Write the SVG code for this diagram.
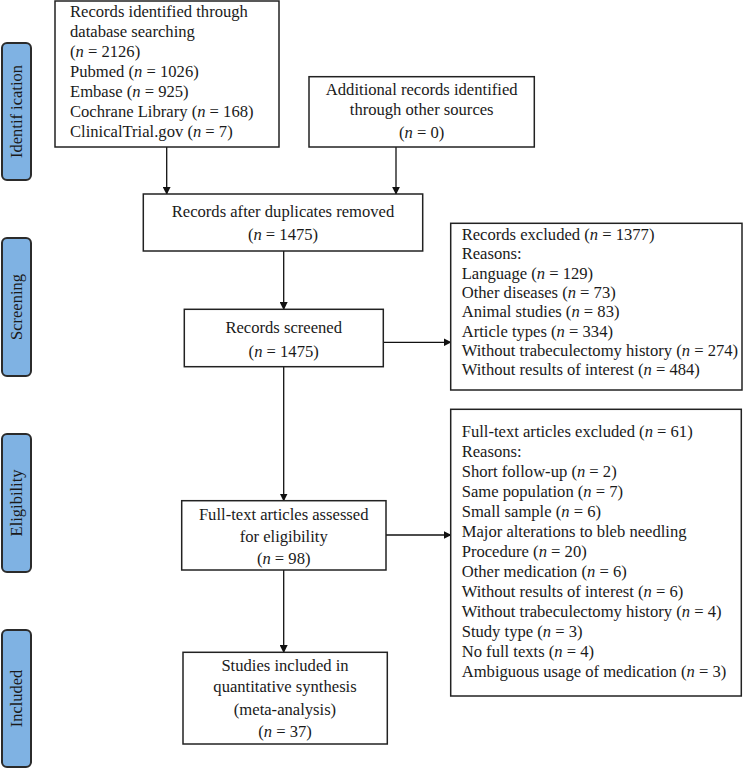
<svg xmlns="http://www.w3.org/2000/svg" width="744" height="768" viewBox="0 0 744 768">
<style>
text{font-family:"Liberation Serif","Times New Roman",serif;font-size:16.6px;fill:#1a1a1a}
.box{fill:#fff;stroke:#222;stroke-width:1.5}
.bar{fill:#7fb2e3;stroke:#2b2b2b;stroke-width:2}
.c{text-anchor:middle}
.lab{text-anchor:middle;font-size:16.5px}
.ln{stroke:#111;stroke-width:1.3;fill:none}
.i{font-style:italic}
</style>
<defs>
<marker id="ah" viewBox="0 0 10 10" refX="9" refY="5" markerWidth="8" markerHeight="8" markerUnits="userSpaceOnUse" orient="auto">
<path d="M0,0 L10,5 L0,10 z" fill="#111"/>
</marker>
</defs>
<rect width="744" height="768" fill="#fff"/>
<g id="phase-identification"><rect class="bar" x="2" y="43" width="29" height="137" rx="5"/><text class="lab" transform="translate(22,111.5) rotate(-90)">Identif ication</text></g>
<g id="phase-screening"><rect class="bar" x="2" y="238" width="29" height="138" rx="5"/><text class="lab" transform="translate(22,307) rotate(-90)">Screening</text></g>
<g id="phase-eligibility"><rect class="bar" x="2" y="434" width="29" height="138" rx="5"/><text class="lab" transform="translate(22,503) rotate(-90)">Eligibility</text></g>
<g id="phase-included"><rect class="bar" x="2" y="630" width="29" height="137" rx="5"/><text class="lab" transform="translate(22,698.5) rotate(-90)">Included</text></g>

<g id="connectors">
<line class="ln" x1="166.7" y1="147" x2="166.7" y2="194" marker-end="url(#ah)"/>
<line class="ln" x1="396" y1="147" x2="396" y2="194" marker-end="url(#ah)"/>
<line class="ln" x1="283.7" y1="251" x2="283.7" y2="309.3" marker-end="url(#ah)"/>
<line class="ln" x1="383.3" y1="342.3" x2="450.7" y2="342.3" marker-end="url(#ah)"/>
<line class="ln" x1="283.7" y1="366.7" x2="283.7" y2="500.7" marker-end="url(#ah)"/>
<line class="ln" x1="386" y1="535" x2="450.7" y2="535" marker-end="url(#ah)"/>
<line class="ln" x1="283.7" y1="570" x2="283.7" y2="652.3" marker-end="url(#ah)"/>
</g>

<g id="n-identified">
<rect class="box" x="55" y="1" width="224" height="146"/>
<text x="70" y="16.7">Records identified through</text>
<text x="70" y="36.7">database searching</text>
<text x="70" y="56.7">(<tspan class="i">n</tspan> = 2126)</text>
<text x="70" y="77">Pubmed (<tspan class="i">n</tspan> = 1026)</text>
<text x="70" y="97">Embase (<tspan class="i">n</tspan> = 925)</text>
<text x="70" y="117.3">Cochrane Library (<tspan class="i">n</tspan> = 168)</text>
<text x="70" y="137.3">ClinicalTrial.gov (<tspan class="i">n</tspan> = 7)</text>
</g>
<g id="n-additional">
<rect class="box" x="309" y="76.7" width="225.3" height="70.3"/>
<text class="c" x="421.7" y="95">Additional records identified</text>
<text class="c" x="421.7" y="115">through other sources</text>
<text class="c" x="421.7" y="138.3">(<tspan class="i">n</tspan> = 0)</text>
</g>
<g id="n-duplicates">
<rect class="box" x="143.3" y="194" width="279.4" height="57"/>
<text class="c" x="283" y="217">Records after duplicates removed</text>
<text class="c" x="283" y="240">(<tspan class="i">n</tspan> = 1475)</text>
</g>
<g id="n-screened">
<rect class="box" x="184.3" y="309.3" width="199" height="57.4"/>
<text class="c" x="283.7" y="332.7">Records screened</text>
<text class="c" x="283.7" y="356.7">(<tspan class="i">n</tspan> = 1475)</text>
</g>
<g id="n-excluded1">
<rect class="box" x="450.7" y="223.3" width="291.3" height="166.7"/>
<text x="461.7" y="240">Records excluded (<tspan class="i">n</tspan> = 1377)</text>
<text x="461.7" y="259.3">Reasons:</text>
<text x="461.7" y="278.6">Language (<tspan class="i">n</tspan> = 129)</text>
<text x="461.7" y="297.9">Other diseases (<tspan class="i">n</tspan> = 73)</text>
<text x="461.7" y="317.2">Animal studies (<tspan class="i">n</tspan> = 83)</text>
<text x="461.7" y="336.5">Article types (<tspan class="i">n</tspan> = 334)</text>
<text x="461.7" y="355.8">Without trabeculectomy history (<tspan class="i">n</tspan> = 274)</text>
<text x="461.7" y="375.1">Without results of interest (<tspan class="i">n</tspan> = 484)</text>
</g>
<g id="n-assessed">
<rect class="box" x="181.7" y="500.7" width="204.3" height="69.3"/>
<text class="c" x="283.7" y="520">Full-text articles assessed</text>
<text class="c" x="283.7" y="541.7">for eligibility</text>
<text class="c" x="283.7" y="564">(<tspan class="i">n</tspan> = 98)</text>
</g>
<g id="n-excluded2">
<rect class="box" x="450.7" y="409.3" width="290.6" height="286.7"/>
<text x="461.7" y="436.7">Full-text articles excluded (<tspan class="i">n</tspan> = 61)</text>
<text x="461.7" y="456.7">Reasons:</text>
<text x="461.7" y="476.7">Short follow-up (<tspan class="i">n</tspan> = 2)</text>
<text x="461.7" y="496.7">Same population (<tspan class="i">n</tspan> = 7)</text>
<text x="461.7" y="516.7">Small sample (<tspan class="i">n</tspan> = 6)</text>
<text x="461.7" y="536.7">Major alterations to bleb needling</text>
<text x="461.7" y="556.7">Procedure (<tspan class="i">n</tspan> = 20)</text>
<text x="461.7" y="576.7">Other medication (<tspan class="i">n</tspan> = 6)</text>
<text x="461.7" y="596.7">Without results of interest (<tspan class="i">n</tspan> = 6)</text>
<text x="461.7" y="616.7">Without trabeculectomy history (<tspan class="i">n</tspan> = 4)</text>
<text x="461.7" y="636.7">Study type (<tspan class="i">n</tspan> = 3)</text>
<text x="461.7" y="656.7">No full texts (<tspan class="i">n</tspan> = 4)</text>
<text x="461.7" y="676.7">Ambiguous usage of medication (<tspan class="i">n</tspan> = 3)</text>
</g>
<g id="n-included">
<rect class="box" x="183" y="652.3" width="204.3" height="91.7"/>
<text class="c" x="285" y="670.7">Studies included in</text>
<text class="c" x="285" y="691.7">quantitative synthesis</text>
<text class="c" x="285" y="715">(meta-analysis)</text>
<text class="c" x="285" y="736.7">(<tspan class="i">n</tspan> = 37)</text>
</g>
</svg>
